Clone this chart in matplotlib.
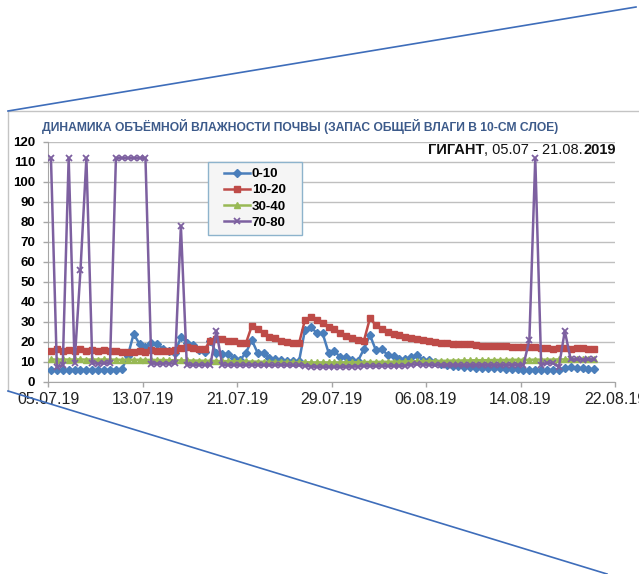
import numpy as np
import matplotlib
matplotlib.use('Agg')
import matplotlib.pyplot as plt
from matplotlib.lines import Line2D
from matplotlib.patches import Rectangle

plt.rcParams['font.family'] = ['Liberation Sans', 'DejaVu Sans']

# --- data ---
date_labels = ['05.07.19', '13.07.19', '21.07.19', '29.07.19', '06.08.19', '14.08.19', '22.08.19']
series_names = ['0-10', '10-20', '30-40', '70-80']

layer_0_10 = [6.0, 6.0, 6.1, 6.0, 6.0, 6.0, 6.1, 6.0, 6.0, 6.0, 6.1, 6.2, 6.3, 13.0, 24.0, 19.0,
              17.5, 19.5, 19.0, 16.5, 15.5, 14.5, 22.5, 19.5, 18.5, 16.0, 15.2, 20.5, 14.5, 14.0,
              14.0, 12.0, 11.0, 14.5, 21.0, 14.5, 14.5, 12.0, 11.5, 10.8, 10.6, 10.4, 10.3, 26.0,
              27.5, 24.5, 24.3, 14.7, 15.5, 12.3, 12.5, 10.8, 10.7, 16.5, 23.5, 16.0, 16.5, 13.5,
              13.0, 11.3, 11.5, 12.3, 13.5, 11.0, 10.8, 10.0, 9.0, 8.7, 8.0, 7.8, 7.7, 7.5, 7.2,
              7.0, 7.0, 6.8, 6.8, 6.6, 6.5, 6.3, 6.0, 6.0, 6.0, 6.0, 6.0, 6.0, 6.2, 7.2, 7.5, 7.0,
              6.8, 6.5, 6.3]

layer_10_20 = [15.5, 16.5, 15.3, 16.2, 15.5, 16.3, 15.3, 16.0, 15.5, 16.0, 15.4, 15.6, 15.1, 15.2,
               15.0, 15.6, 15.2, 15.8, 15.3, 15.6, 15.3, 16.2, 16.8, 17.3, 17.2, 16.5, 16.3, 20.7,
               21.3, 21.3, 20.7, 20.5, 19.7, 19.3, 28.0, 26.3, 24.7, 22.7, 21.8, 20.7, 20.2, 19.7,
               19.3, 31.0, 32.5, 31.0, 29.5, 27.5, 26.3, 24.5, 23.0, 22.0, 21.2, 20.7, 31.8, 28.5,
               26.5, 25.0, 24.0, 23.3, 22.7, 22.2, 21.6, 21.0, 20.3, 19.8, 19.6, 19.3, 19.2, 19.0,
               19.0, 18.8, 18.5, 17.8, 17.8, 18.0, 17.8, 17.9, 17.3, 17.6, 17.6, 17.6, 17.3, 16.8,
               17.2, 16.5, 16.8, 17.0, 16.5, 16.8, 17.0, 16.5, 16.3]

layer_30_40 = [11.3, 11.2, 11.3, 11.2, 11.3, 11.3, 11.2, 11.3, 11.2, 11.3, 11.2, 11.2, 11.1, 11.2,
               11.1, 11.1, 11.0, 11.1, 11.0, 11.0, 10.9, 10.9, 10.8, 10.8, 10.7, 10.7, 10.6, 10.6,
               10.5, 10.5, 10.4, 10.4, 10.3, 10.3, 10.2, 10.2, 10.1, 10.1, 10.0, 10.0, 10.0, 9.9,
               9.9, 9.9, 9.8, 9.8, 9.8, 9.8, 9.8, 9.8, 9.9, 9.9, 9.9, 10.0, 10.0, 10.0, 10.1, 10.1,
               10.2, 10.2, 10.3, 10.3, 10.4, 10.4, 10.5, 10.5, 10.6, 10.6, 10.7, 10.7, 10.8, 10.8,
               10.9, 10.9, 10.9, 11.0, 11.0, 11.0, 11.1, 11.1, 11.1, 11.1, 11.2, 11.2, 11.2, 11.2,
               11.3, 11.3, 11.3, 11.3, 11.3, 11.3, 11.3]

layer_70_80 = [112, 7.5, 8.5, 112, 9.5, 56, 112, 9.3, 9.2, 9.3, 9.4, 112, 112, 112, 112, 112, 112,
               9.2, 9.1, 9.2, 9.2, 9.3, 78, 8.6, 8.5, 8.5, 8.6, 8.5, 25.5, 8.6, 8.5, 8.5, 8.4, 8.5,
               8.5, 8.6, 8.5, 8.4, 8.5, 8.5, 8.4, 8.3, 8.3, 8.2, 7.7, 7.6, 7.5, 7.6, 7.6, 7.5, 7.6,
               7.7, 7.7, 8.0, 8.0, 7.9, 8.0, 8.1, 8.0, 8.0, 8.1, 8.7, 8.8, 8.7, 8.6, 8.5, 8.5, 8.6,
               8.5, 8.5, 8.4, 8.5, 8.5, 8.6, 8.5, 8.5, 8.4, 8.5, 8.5, 8.6, 8.5, 21.0, 112, 8.5, 9.5,
               9.5, 7.5, 25.5, 11.3, 11.3, 11.2, 11.3, 11.3]

title = 'ДИНАМИКА ОБЪЁМНОЙ ВЛАЖНОСТИ ПОЧВЫ (ЗАПАС ОБЩЕЙ ВЛАГИ В 10-СМ СЛОЕ)'

W, H = 639, 574
fig = plt.figure(figsize=(W / 100, H / 100), dpi=100)
fig.patch.set_facecolor('white')


def fx(px):
    return px / W


def fy(py):
    return 1 - py / H


# chart frame (top and left edges) and the blue callout lines
fig.add_artist(Line2D([fx(8), fx(639)], [fy(111), fy(111)], transform=fig.transFigure,
                      color='#C4C4C4', lw=1))
fig.add_artist(Line2D([fx(8), fx(8)], [fy(111), fy(391)], transform=fig.transFigure,
                      color='#C4C4C4', lw=1))
fig.add_artist(Line2D([fx(8), fx(636)], [fy(111), fy(7)], transform=fig.transFigure,
                      color='#3E6DBA', lw=1.2))
fig.add_artist(Line2D([fx(8), fx(607)], [fy(391), fy(574)], transform=fig.transFigure,
                      color='#3E6DBA', lw=1.2))

ax = fig.add_axes([fx(48), fy(382), (615 - 48) / W, 240 / H])

step = 16
n_cat = step * (len(date_labels) - 1)
x = np.arange(len(layer_0_10)) + 0.5

ax.plot(x, layer_0_10, color='#4A7EBB', marker='D', ms=4, lw=1.8, label=series_names[0], zorder=4)
ax.plot(x, layer_10_20, color='#BE4B48', marker='s', ms=4, lw=1.8, label=series_names[1], zorder=4)
ax.plot(x, layer_30_40, color='#98B954', marker='^', ms=4.5, lw=1.8, label=series_names[2], zorder=4)
ax.plot(x, layer_70_80, color='#7D60A0', marker='x', ms=4, mew=1.3, lw=1.8, label=series_names[3], zorder=4)

ax.set_xlim(0, n_cat)
ax.set_ylim(0, 120)
ax.set_yticks(range(0, 121, 10))
ax.set_xticks(range(0, n_cat + 1, step))
ax.set_xticklabels(date_labels)
ax.grid(axis='y', color='#BFBFBF', lw=1)
ax.set_axisbelow(True)

for s in ['top', 'right']:
    ax.spines[s].set_visible(False)
for s in ['left', 'bottom']:
    ax.spines[s].set_color('#A6A6A6')

ax.tick_params(axis='y', length=3.6, width=1, color='#A6A6A6', pad=5.5, labelsize=9.5)
ax.tick_params(axis='x', length=3.6, width=1, color='#A6A6A6', pad=3.5, labelsize=11.5,
               labelcolor='#222222')
for lab in ax.get_yticklabels():
    lab.set_fontweight('bold')

# legend box
ax.add_patch(Rectangle((0.282, 0.6125), 0.166, 0.3045, transform=ax.transAxes,
                       facecolor='#F5F5F5', edgecolor='#8DB3CC', lw=1, zorder=5))
ax.legend(loc='center', bbox_to_anchor=(0.365, 0.765), frameon=False,
          prop={'weight': 'bold', 'size': 9.5}, handlelength=2.0, handletextpad=0.1,
          labelspacing=0.3).set_zorder(6)

# titles
fig.text(fx(42), fy(127), title, ha='left', va='center', fontsize=8.7, fontweight='bold',
         color='#3C5A8A')
t1 = fig.text(fx(428), fy(157), 'ГИГАНТ', ha='left', va='bottom', fontsize=10.5,
              fontweight='bold', color='#111111')
t2 = ax.annotate(', 05.07 - 21.08.', xy=(1, 0), xycoords=t1, ha='left', va='bottom',
                 fontsize=10.5, color='#111111')
ax.annotate('2019', xy=(1, 0), xycoords=t2, ha='left', va='bottom', fontsize=10.5,
            fontweight='bold', color='#111111')

fig.savefig('out.png', dpi=100)
